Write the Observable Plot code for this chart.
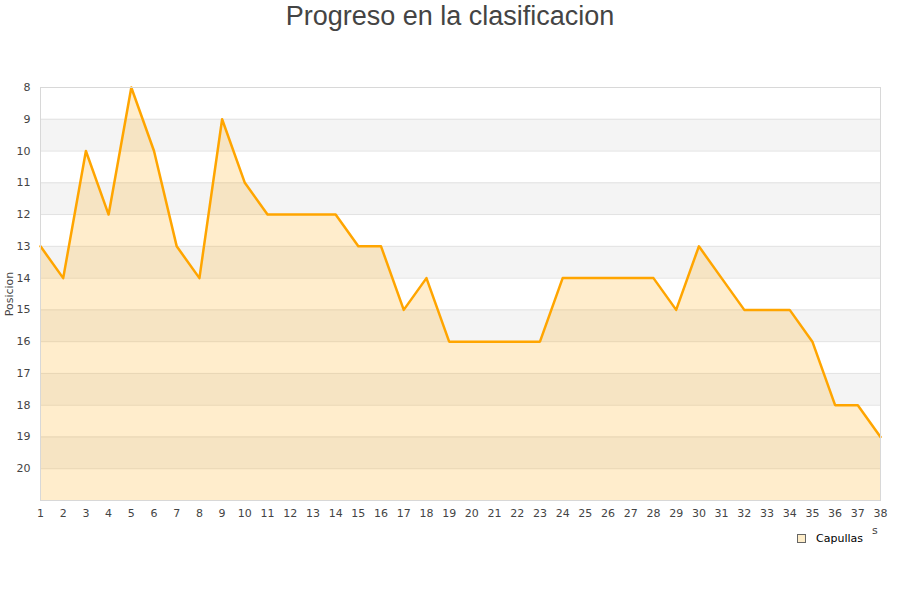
<!DOCTYPE html>
<html>
<head>
<meta charset="utf-8">
<script src="https://cdn.jsdelivr.net/npm/d3@7"></script>
<script src="https://cdn.jsdelivr.net/npm/@observablehq/plot@0.6"></script>
<style>
  body { margin: 0; background: #fff; }
  #wrap { position: relative; width: 900px; height: 600px; }
  #title { position: absolute; left: 0; top: 0; width: 900px; text-align: center;
    font-family: "Liberation Sans", Arial, sans-serif; font-size: 27px; color: #444; line-height: 32px; }
  #legend { position: absolute; left: 797px; top: 532px; font-family: "DejaVu Sans", sans-serif;
    font-size: 11px; color: #000; display: flex; align-items: center; }
  #legend span.sw { display: inline-block; width: 7px; height: 7px; background: #feedc9; border: 1px solid #666; margin-right: 10px; }
  #xlab { position: absolute; left: 872px; top: 524px; font-family: "DejaVu Sans", sans-serif; font-size: 11px; color: #444; }
  #chart svg { display: block; }
</style>
</head>
<body>
<div id="wrap">
  <div id="chart"></div>
  <div id="title">Progreso en la clasificacion</div>
  <div id="xlab">s</div>
  <div id="legend"><span class="sw"></span>Capullas</div>
</div>
<script>
const rounds = d3.range(1, 39);
const positions = [13,14,10,12,8,10,13,14,9,11,12,12,12,12,13,13,15,14,16,16,16,16,16,14,14,14,14,14,15,13,14,15,15,15,16,18,18,19];
const yTicks = [8,9,10,11,12,13,14,15,16,17,18,19,20];
const gridLines = [8,9,10,11,12,13,14,15,16,17,18,19,20,21];
const bandStarts = [9,11,13,15,17,19];
const seriesName = "Capullas";

const data = rounds.map((r, i) => ({round: r, pos: positions[i]}));
const bands = bandStarts.map(b => ({y1: b, y2: b + 1}));

const chart = Plot.plot({
  width: 900,
  height: 600,
  marginLeft: 40,
  marginRight: 20,
  marginTop: 87,
  marginBottom: 100,
  style: {fontFamily: "DejaVu Sans, sans-serif", fontSize: "11px", color: "#444", background: "#fff"},
  x: {domain: [1, 38], ticks: rounds, tickFormat: d => d, tickSize: 0, tickPadding: 9, label: null},
  y: {domain: [8, 21], reverse: true, ticks: yTicks, tickFormat: d => d, tickSize: 0, tickPadding: 10, label: "Posicion", labelAnchor: "center", labelArrow: "none"},
  marks: [
    Plot.rect(bands, {x1: 1, x2: 38, y1: "y1", y2: "y2", fill: "#f4f4f4"}),
    Plot.ruleY(gridLines, {stroke: "#e2e2e2", strokeWidth: 1}),
    Plot.areaY(data, {x: "round", y1: 21, y2: "pos", fill: "#ffa500", fillOpacity: 0.2}),
    Plot.lineY(data, {x: "round", y: "pos", stroke: "#ffa500", strokeWidth: 2.5}),
    Plot.frame({stroke: "#d8d8d8"}),
    Plot.axisX({ticks: rounds, tickSize: 0, tickPadding: 9, label: null, fill: "#444"}),
    Plot.axisY({ticks: yTicks, tickSize: 0, tickPadding: 10, label: "Posicion", labelAnchor: "center", labelArrow: "none", labelOffset: 35, fill: "#444"})
  ]
});
document.getElementById("chart").appendChild(chart);
</script>
</body>
</html>
